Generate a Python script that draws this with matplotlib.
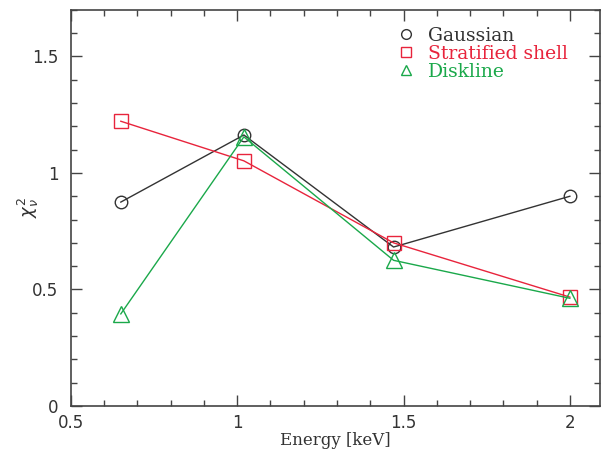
import matplotlib
matplotlib.use("Agg")
import matplotlib.pyplot as plt
from matplotlib.lines import Line2D
from matplotlib.ticker import MultipleLocator

# energies of the four bands [keV]
energy = [0.65, 1.02, 1.47, 2.0]
gaussian = [0.875, 1.163, 0.682, 0.90]
stratified = [1.222, 1.052, 0.70, 0.467]
diskline = [0.395, 1.155, 0.625, 0.462]

names = ["Gaussian", "Stratified shell", "Diskline"]
colors = ["#333333", "#e8243c", "#1aa84a"]
markers = ["o", "s", "^"]
sizes = [9, 10, 12]

fig = plt.figure(figsize=(6.01, 4.5), dpi=100)
ax = fig.add_axes([0.118, 0.098, 0.880, 0.880])

for ys, c, m, s in zip([gaussian, stratified, diskline], colors, markers, sizes):
    ax.plot(energy, ys, color=c, lw=1.0, marker=m, ms=s, mfc="none", mec=c, mew=1.0)

ax.set_xlim(0.5, 2.09)
ax.set_ylim(0, 1.7)
ax.xaxis.set_minor_locator(MultipleLocator(0.1))
ax.yaxis.set_minor_locator(MultipleLocator(0.1))
ax.set_xticks([0.5, 1, 1.5, 2])
ax.set_xticklabels(["0.5", "1", "1.5", "2"])
ax.set_yticks([0, 0.5, 1, 1.5])
ax.set_yticklabels(["0", "0.5", "1", "1.5"])
ax.tick_params(which="both", direction="in", top=True, right=True, color="#444444", labelsize=12, labelcolor="#333333")
ax.tick_params(which="major", length=8, width=1)
ax.tick_params(which="minor", length=4, width=1)
ax.tick_params(axis="x", pad=6)
ax.tick_params(axis="y", pad=9)
for sp in ax.spines.values():
    sp.set_color("#444444")
    sp.set_linewidth(1.2)

ax.set_xlabel("Energy [keV]", family="DejaVu Serif", fontsize=12, color="#333333", labelpad=0)
ax.set_ylabel(r"$\chi^2_\nu$", fontsize=13, color="#333333")
ax.yaxis.set_label_coords(-0.057, 0.5)

handles = [Line2D([], [], ls="none", marker=m, ms=7, mfc="none", mec=c, mew=1.0)
           for m, c in zip(markers, colors)]
leg = ax.legend(handles, names, loc="upper left", bbox_to_anchor=(0.57, 0.995), frameon=False,
                prop={"family": "DejaVu Serif", "size": 13.5}, handletextpad=0.15,
                labelspacing=0.0, borderaxespad=0.4)
for t, c in zip(leg.get_texts(), colors):
    t.set_color(c)

fig.savefig("out.png", dpi=100)
